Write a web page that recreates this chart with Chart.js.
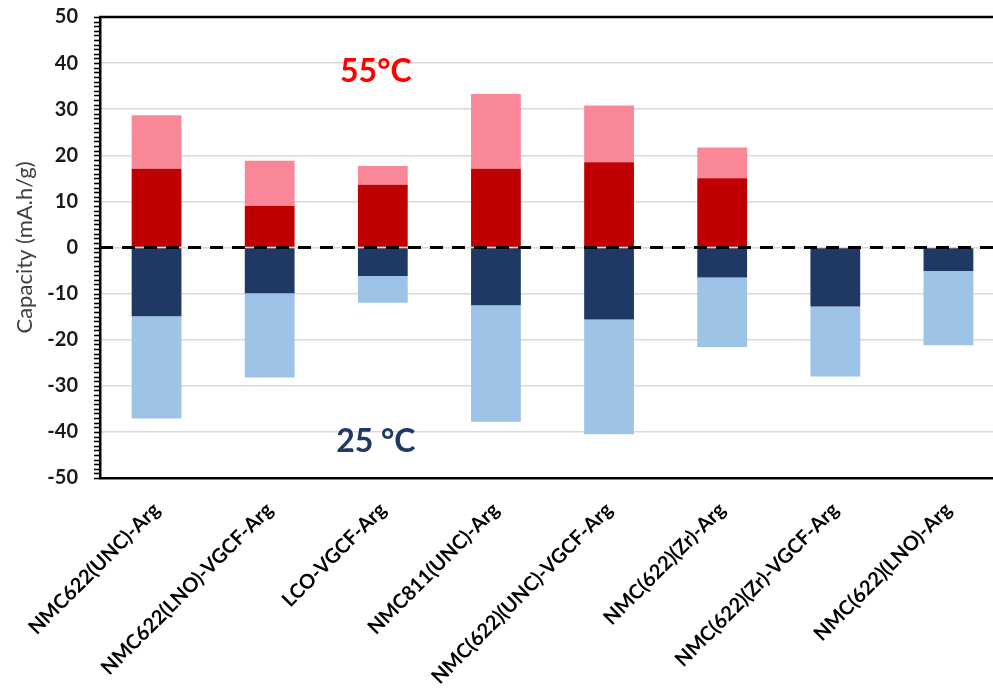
<!DOCTYPE html>
<html>
<head>
<meta charset="utf-8">
<script src="https://cdn.jsdelivr.net/npm/chart.js@4"></script>
<style>
html,body{margin:0;padding:0;background:#fff;overflow:hidden;width:993px;height:693px;}
canvas{display:block;}
</style>
</head>
<body>
<canvas id="c" width="1010" height="693"></canvas>
<script>
const categories = ["NMC622(UNC)-Arg","NMC622(LNO)-VGCF-Arg","LCO-VGCF-Arg","NMC811(UNC)-Arg","NMC(622)(UNC)-VGCF-Arg","NMC(622)(Zr)-Arg","NMC(622)(Zr)-VGCF-Arg","NMC(622)(LNO)-Arg"];
const inner55 = [17.1, 9.0, 13.6, 17.1, 18.5, 15.0, null, null];
const total55 = [28.7, 18.8, 17.7, 33.3, 30.8, 21.7, null, null];
const inner25 = [-14.9, -9.9, -6.2, -12.5, -15.6, -6.5, -12.8, -5.1];
const total25 = [-37.1, -28.2, -12.0, -37.8, -40.5, -21.6, -28.0, -21.2];
const yTicks = [-50,-40,-30,-20,-10,0,10,20,30,40,50];
const annotations = [
  {text:"55°C", cat:2, value:38.1, color:"#FF0000"},
  {text:"25 °C", cat:2, value:-42.1, color:"#203864"}
];

const FONT = "Lato, 'Open Sans', sans-serif";

const floatRange = (a, b) => a.map((v, i) => (v === null || b[i] === null) ? null : [v, b[i]]);

const extras = {
  id: 'extras',
  afterDatasetsDraw(chart) {
    const ctx = chart.ctx, ca = chart.chartArea;
    const y = chart.scales.y, x = chart.scales.x;
    ctx.save();
    const y0 = y.getPixelForValue(0);
    ctx.strokeStyle = '#000';
    ctx.lineWidth = 3;
    ctx.setLineDash([13, 9]);
    ctx.beginPath(); ctx.moveTo(ca.left, y0); ctx.lineTo(ca.right, y0); ctx.stroke();
    ctx.setLineDash([]);
    ctx.lineWidth = 2.5;
    ctx.beginPath(); ctx.moveTo(ca.left - 1, ca.top); ctx.lineTo(ca.right, ca.top); ctx.stroke();
    ctx.lineWidth = 1.6;
    for (let v = y.min; v <= y.max; v += 1) {
      const py = Math.round(y.getPixelForValue(v)) + 0.5;
      ctx.beginPath(); ctx.moveTo(ca.left - 6, py); ctx.lineTo(ca.left, py); ctx.stroke();
    }
    ctx.font = "bold 32px " + FONT;
    ctx.textAlign = 'center';
    ctx.textBaseline = 'middle';
    annotations.forEach(a => {
      ctx.fillStyle = a.color;
      ctx.fillText(a.text, x.getPixelForValue(a.cat) - 7, y.getPixelForValue(a.value));
    });
    ctx.restore();
  }
};

new Chart(document.getElementById('c'), {
  type: 'bar',
  data: {
    labels: categories,
    datasets: [
      {label:'55 inner', data: floatRange(inner55.map(v => v === null ? null : 0), inner55), backgroundColor:'#C00000'},
      {label:'55 outer', data: floatRange(inner55, total55), backgroundColor:'#F98797'},
      {label:'25 inner', data: floatRange(inner25.map(() => 0), inner25), backgroundColor:'#203864'},
      {label:'25 outer', data: floatRange(inner25, total25), backgroundColor:'#9DC3E6'}
    ]
  },
  options: {
    responsive: false,
    animation: false,
    layout: {padding: {top: 17, left: 0, right: 5, bottom: 0}},
    datasets: {bar: {categoryPercentage: 1, barPercentage: 0.44, grouped: false, borderWidth: 0}},
    plugins: {legend: {display: false}, tooltip: {enabled: false}},
    scales: {
      x: {
        grid: {display: false, drawTicks: false},
        border: {display: true, color: '#000', width: 2.5},
        ticks: {
          color: '#000', font: {family: FONT, size: 20, weight: 'bold'},
          maxRotation: 45, minRotation: 45, padding: 20, autoSkip: false
        },
        afterFit(s) { s.height = 215; s.paddingLeft = 0; s.paddingRight = 0; }
      },
      y: {
        min: -50, max: 50,
        afterBuildTicks(s) { s.ticks = yTicks.map(v => ({value: v})); },
        grid: {color: '#D9D9D9', lineWidth: 1.5, drawTicks: false},
        border: {display: true, color: '#000', width: 2.5},
        ticks: {color: '#1a1a1a', font: {family: FONT, size: 20, weight: 'bold'}, padding: 22},
        title: {display: true, text: 'Capacity (mA.h/g)', color: '#404040', font: {family: FONT, size: 22}, padding: {top: 12, bottom: 0}},
        afterFit(s) { s.width = 100; s.paddingTop = 0; s.paddingBottom = 0; }
      }
    }
  },
  plugins: [extras]
});
</script>
</body>
</html>
